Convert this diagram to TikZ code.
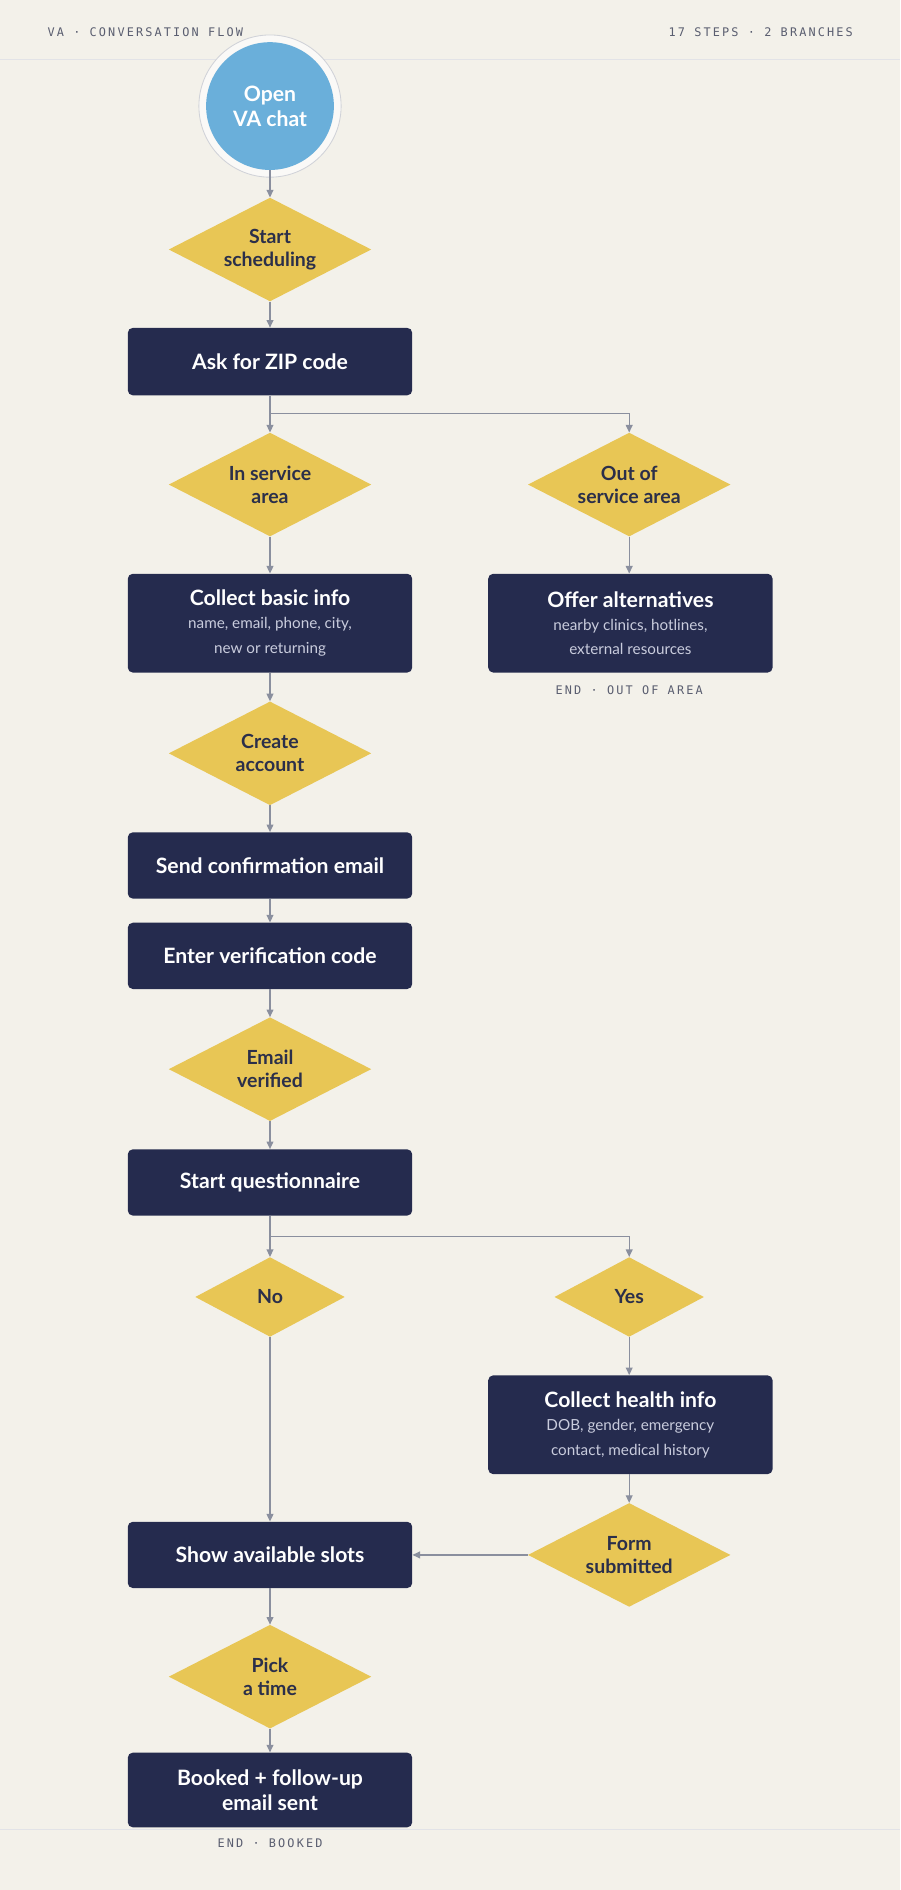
\documentclass[tikz,border=0pt]{standalone}
\usepackage{fontspec}
\setmainfont{Lato}
\newfontfamily\hdrfont[LetterSpace=18]{DejaVu Sans Mono}
\usetikzlibrary{shapes.geometric,arrows.meta,positioning}
\definecolor{paper}{HTML}{F3F1EA}
\definecolor{navy}{HTML}{252B4E}
\definecolor{gold}{HTML}{E8C655}
\definecolor{sky}{HTML}{6AAFDA}
\definecolor{wire}{HTML}{8A8F9E}
\definecolor{ink}{HTML}{2B2F4A}
\definecolor{soft}{HTML}{C9CCDD}
\definecolor{hdr}{HTML}{5A5E70}
\tikzset{
  task/.style={draw=none,fill=navy,rounded corners=6pt,minimum width=236*0.05cm,text=white,align=center,font=\bfseries\fontsize{25}{29}\selectfont},
  choice/.style={diamond,fill=gold,inner sep=0pt,minimum width=168*0.05cm,minimum height=86*0.05cm},
  small choice/.style={choice,minimum width=124*0.05cm,minimum height=66*0.05cm},
  dtext/.style={text=ink,align=center,font=\bfseries\fontsize{23}{27}\selectfont},
  flow/.style={draw=wire,line width=1.6pt,-{Triangle[length=9pt,width=8pt]}},
  note/.style={text=hdr,font=\hdrfont\fontsize{14}{16}\selectfont},
}
\newcommand{\subfmt}{\mdseries\fontsize{18}{21}\selectfont\color{soft}}
\begin{document}
\begin{tikzpicture}[x=0.05cm,y=-0.05cm]
	\fill[paper] (0,0) rectangle (747,1568);
	\useasboundingbox (0,0) rectangle (747,1568);
	\draw[wire!25,line width=0.8pt] (0,49) -- (747,49);
	\draw[wire!25,line width=0.8pt] (0,1518) -- (747,1518);
	\node[note,anchor=west] (hl) at (37,27) {VA · CONVERSATION FLOW};
	\node[note,anchor=east] (hr) at (710,27) {17 STEPS · 2 BRANCHES};
	
	% main column
	\draw[wire!40,fill=white!60!paper,line width=1pt] (224,88) circle (59);
	\node[circle,fill=sky,minimum size=106*0.05cm,text=white,align=center,font=\bfseries\fontsize{25}{29}\selectfont] (open) at (224,88) {Open\\VA chat};
	\node[choice,label={[dtext]center:Start\\scheduling}] (start) at (224,207) {};
	\node[task,minimum height=56*0.05cm] (zip) at (224,300) {Ask for ZIP code};
	\node[choice,label={[dtext]center:In service\\area}] (inarea) at (224,402) {};
	\node[task,minimum height=82*0.05cm] (basic) at (224,517) {Collect basic info\\[-2pt]\subfmt name, email, phone, city,\\\subfmt new or returning};
	\node[choice,label={[dtext]center:Create\\account}] (account) at (224,625) {};
	\node[task,minimum height=55*0.05cm] (confirm) at (224,718) {Send confirmation email};
	\node[task,minimum height=55*0.05cm] (code) at (224,793) {Enter verification code};
	\node[choice,label={[dtext]center:Email\\verified}] (verified) at (224,887) {};
	\node[task,minimum height=55*0.05cm] (quest) at (224,981) {Start questionnaire};
	\node[small choice,label={[dtext]center:No}] (no) at (224,1076) {};
	\node[task,minimum height=55*0.05cm] (slots) at (224,1290) {Show available slots};
	\node[choice,label={[dtext]center:Pick\\a time}] (pick) at (224,1391) {};
	\node[task,minimum height=62*0.05cm] (booked) at (224,1485) {Booked + follow-up\\email sent};
	\node[note] (endbook) at (224,1529) {END · BOOKED};
	
	% side column
	\node[choice,label={[dtext]center:Out of\\service area}] (outarea) at (522,402) {};
	\node[task,minimum height=82*0.05cm] (offer) at (523,517) {Offer alternatives\\[-2pt]\subfmt nearby clinics, hotlines,\\\subfmt external resources};
	\node[note] (endout) at (522,573) {END · OUT OF AREA};
	\node[small choice,label={[dtext]center:Yes}] (yes) at (522,1076) {};
	\node[task,minimum height=82*0.05cm] (health) at (523,1182) {Collect health info\\[-2pt]\subfmt DOB, gender, emergency\\\subfmt contact, medical history};
	\node[choice,label={[dtext]center:Form\\submitted}] (form) at (522,1290) {};
	
	\coordinate (split1) at (224,343);
	\coordinate (split2) at (224,1026);
	
	\draw[flow] (open) -- (start);
	\draw[flow] (start) -- (zip);
	\draw[flow] (zip) -- (inarea);
	\draw[flow] (split1) -| (outarea);
	\draw[flow] (inarea) -- (basic);
	\draw[flow] (outarea) -- (outarea|-offer.north);
	\draw[flow] (basic) -- (account);
	\draw[flow] (account) -- (confirm);
	\draw[flow] (confirm) -- (code);
	\draw[flow] (code) -- (verified);
	\draw[flow] (verified) -- (quest);
	\draw[flow] (quest) -- (no);
	\draw[flow] (split2) -| (yes);
	\draw[flow] (yes) -- (yes|-health.north);
	\draw[flow] (health.south-|form) -- (form);
	\draw[flow] (no) -- (slots);
	\draw[flow] (form) -- (slots);
	\draw[flow] (slots) -- (pick);
	\draw[flow] (pick) -- (booked);
	
\end{tikzpicture}
\end{document}
